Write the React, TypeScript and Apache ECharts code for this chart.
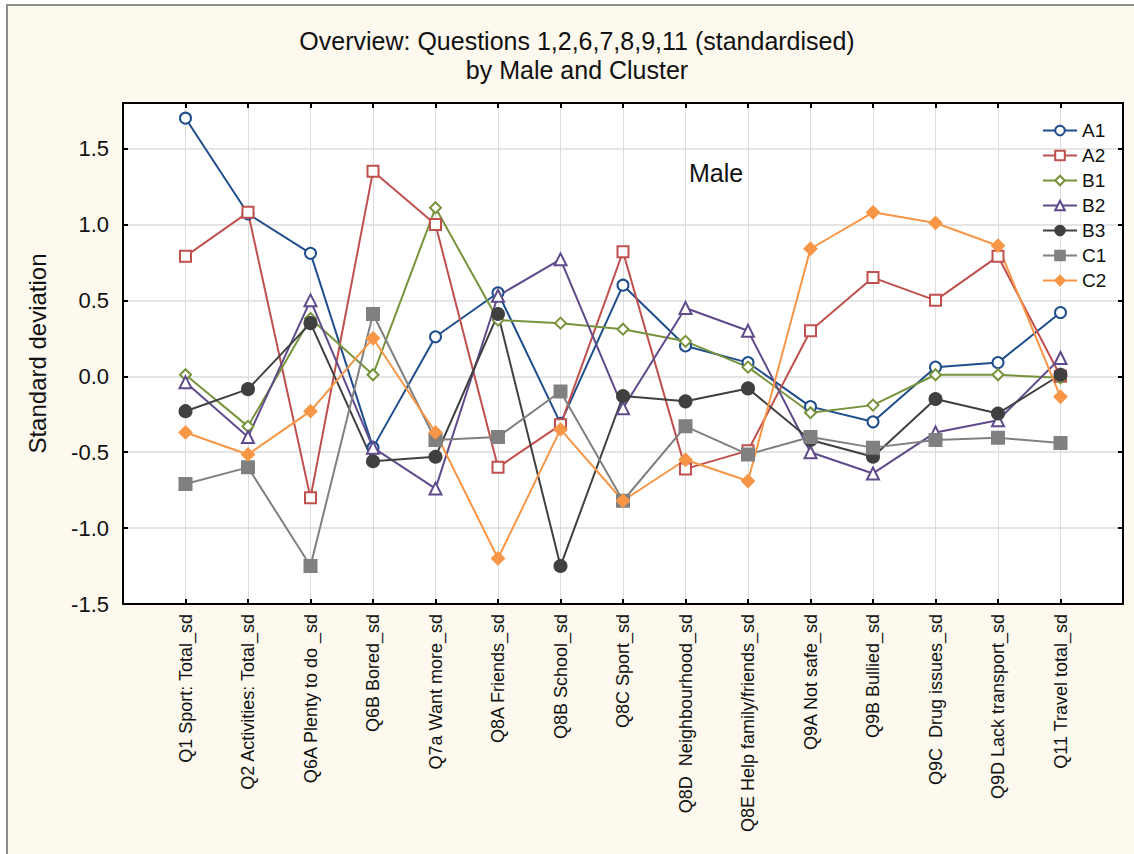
import React, { useEffect, useRef } from "react";
import * as echarts from "echarts";

const categories = [
  "Q1 Sport: Total_sd",
  "Q2 Activities: Total_sd",
  "Q6A Plenty to do _sd",
  "Q6B Bored_sd",
  "Q7a Want more_sd",
  "Q8A Friends_sd",
  "Q8B School_sd",
  "Q8C Sport_sd",
  "Q8D  Neighbourhood_sd",
  "Q8E Help family/friends_sd",
  "Q9A Not safe_sd",
  "Q9B Bullied_sd",
  "Q9C  Drug issues_sd",
  "Q9D Lack transport_sd",
  "Q11 Travel total_sd",
];

const A1 = [1.7, 1.07, 0.81, -0.47, 0.26, 0.55, -0.31, 0.6, 0.2, 0.09, -0.2, -0.3, 0.06, 0.09, 0.42];
const A2 = [0.79, 1.08, -0.8, 1.35, 1.0, -0.6, -0.32, 0.82, -0.61, -0.49, 0.3, 0.65, 0.5, 0.79, 0.0];
const B1 = [0.01, -0.33, 0.38, 0.01, 1.11, 0.37, 0.35, 0.31, 0.23, 0.06, -0.24, -0.19, 0.01, 0.01, -0.01];
const B2 = [-0.04, -0.4, 0.5, -0.47, -0.74, 0.53, 0.77, -0.21, 0.45, 0.3, -0.5, -0.64, -0.37, -0.29, 0.12];
const B3 = [-0.23, -0.085, 0.35, -0.56, -0.53, 0.41, -1.25, -0.13, -0.165, -0.08, -0.42, -0.53, -0.15, -0.245, 0.01];
const C1 = [-0.71, -0.6, -1.25, 0.41, -0.42, -0.4, -0.1, -0.82, -0.33, -0.515, -0.4, -0.47, -0.42, -0.405, -0.44];
const C2 = [-0.37, -0.515, -0.23, 0.25, -0.37, -1.2, -0.35, -0.82, -0.55, -0.69, 0.84, 1.08, 1.01, 0.86, -0.135];

const seriesDefs = [
  { name: "A1", data: A1, color: "#1F4E8C", symbol: "emptyCircle", size: 11 },
  { name: "A2", data: A2, color: "#C0504D", symbol: "emptyRect", size: 11 },
  { name: "B1", data: B1, color: "#77933C", symbol: "emptyDiamond", size: 11 },
  { name: "B2", data: B2, color: "#5F4B8B", symbol: "emptyTriangle", size: 12 },
  { name: "B3", data: B3, color: "#404040", symbol: "circle", size: 12 },
  { name: "C1", data: C1, color: "#808080", symbol: "rect", size: 12 },
  { name: "C2", data: C2, color: "#F79646", symbol: "diamond", size: 12 },
];

const FONT = "Liberation Sans, Arial, sans-serif";

export default function App() {
  const ref = useRef<HTMLDivElement>(null);
  useEffect(() => {
    if (!ref.current) return;
    const chart = echarts.init(ref.current, null, { renderer: "svg" });
    const xLabel = (v: number) => (v >= 1 && v <= categories.length ? categories[v - 1] : "");
    const axisLine = { show: true, onZero: false, lineStyle: { color: "#000", width: 2 } };
    const axisTick = { show: true, inside: true, length: 5, lineStyle: { color: "#000", width: 2 } };
    const option: any = {
      animation: false,
      backgroundColor: "#ffffff",
      textStyle: { fontFamily: FONT },
      graphic: [
        {
          type: "rect",
          z: -10,
          shape: { x: 7, y: 5, width: 1140, height: 870 },
          style: { fill: "#FDF9EE", stroke: "#8c8c8c", lineWidth: 2 },
        },
        {
          type: "text",
          x: 577,
          y: 26,
          style: {
            text: "Overview: Questions 1,2,6,7,8,9,11 (standardised)\nby Male and Cluster",
            textAlign: "center",
            font: `25px ${FONT}`,
            lineHeight: 29,
            fill: "#111",
          },
        },
        {
          type: "text",
          x: 689,
          y: 160,
          z: 10,
          style: { text: "Male", font: `25px ${FONT}`, fill: "#111" },
        },
      ],
      grid: {
        left: 123,
        top: 103,
        width: 1000,
        height: 501,
        show: true,
        backgroundColor: "#ffffff",
        borderWidth: 0,
      },
      legend: {
        orient: "vertical",
        left: 1037,
        top: 116,
        itemWidth: 34,
        itemHeight: 12,
        itemGap: 6,
        textStyle: { fontSize: 19, color: "#111", fontFamily: FONT },
        data: seriesDefs.map((s) => s.name),
      },
      xAxis: [
        {
          type: "value",
          min: 0,
          max: 16,
          interval: 1,
          position: "bottom",
          axisLine,
          axisTick,
          splitLine: { show: true, lineStyle: { color: "#dcdcdc", width: 1 } },
          axisLabel: {
            rotate: 90,
            margin: 10,
            fontSize: 18,
            color: "#111",
            fontFamily: FONT,
            formatter: xLabel,
            showMinLabel: false,
            showMaxLabel: false,
          },
        },
        {
          type: "value",
          min: 0,
          max: 16,
          interval: 1,
          position: "top",
          axisLine,
          axisTick,
          splitLine: { show: false },
          axisLabel: { show: false },
        },
      ],
      yAxis: [
        {
          type: "value",
          min: -1.5,
          max: 1.8,
          interval: 0.5,
          position: "left",
          name: "Standard deviation",
          nameLocation: "middle",
          nameGap: 74,
          nameTextStyle: { fontSize: 24, color: "#111", fontFamily: FONT },
          axisLine,
          axisTick,
          splitLine: { show: true, lineStyle: { color: "#dcdcdc", width: 1.5 } },
          axisLabel: {
            fontSize: 22,
            color: "#111",
            margin: 14,
            fontFamily: FONT,
            showMaxLabel: false,
            formatter: (v: number) => v.toFixed(1),
          },
        },
        {
          type: "value",
          min: -1.5,
          max: 1.8,
          interval: 0.5,
          position: "right",
          axisLine,
          axisTick,
          splitLine: { show: false },
          axisLabel: { show: false },
        },
      ],
      series: seriesDefs.map((s) => ({
        name: s.name,
        type: "line",
        xAxisIndex: 0,
        yAxisIndex: 0,
        data: s.data.map((v, i) => [i + 1, v]),
        symbol: s.symbol,
        symbolSize: s.size,
        showAllSymbol: true,
        color: s.color,
        lineStyle: { color: s.color, width: 2 },
        itemStyle: { color: s.color, borderColor: s.color, borderWidth: 2 },
      })),
    };
    chart.setOption(option);
    return () => chart.dispose();
  }, []);
  return (
    <div
      ref={ref}
      style={{ position: "absolute", left: 0, top: 0, width: 1134, height: 854 }}
    />
  );
}
